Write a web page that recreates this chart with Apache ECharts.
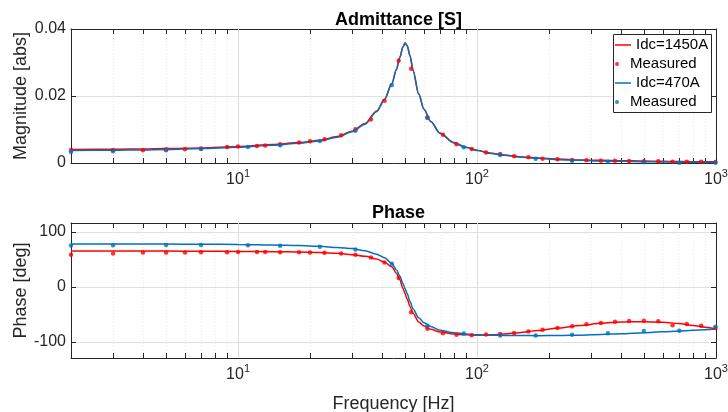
<!DOCTYPE html>
<html><head><meta charset="utf-8">
<script src="https://cdn.jsdelivr.net/npm/echarts@6/dist/echarts.min.js"></script>
<style>html,body{margin:0;padding:0;background:#fff}#c{width:728px;height:412px}</style>
</head><body><div id="c"></div>
<script>
// ---- data ----
const lineFreq = [2, 3, 4, 5, 7, 10, 14, 18, 22, 26, 30, 34, 38, 41, 44, 46, 47.5, 49, 50, 51, 52.5, 54, 57, 60, 64, 70, 80, 90, 100, 115, 130, 150, 180, 220, 270, 330, 400, 500, 600, 700, 800, 900, 1000];
const magFit1450 = [0.0040, 0.0041, 0.0042, 0.0043, 0.0045, 0.0049, 0.0055, 0.0061, 0.0068, 0.0079, 0.0095, 0.0118, 0.0155, 0.0190, 0.0237, 0.0280, 0.0315, 0.0347, 0.0358, 0.0350, 0.0318, 0.0275, 0.0205, 0.0160, 0.0124, 0.0089, 0.0061, 0.0047, 0.0038, 0.0029, 0.0024, 0.0019, 0.0015, 0.0012, 0.0009, 0.0008, 0.0007, 0.0006, 0.0005, 0.00045, 0.0004, 0.00037, 0.00035];
const magFit470 = [0.0037, 0.0038, 0.0039, 0.0040, 0.0043, 0.0047, 0.0053, 0.0059, 0.0066, 0.0077, 0.0093, 0.0116, 0.0153, 0.0189, 0.0236, 0.0278, 0.0314, 0.0347, 0.0358, 0.0351, 0.0320, 0.0277, 0.0207, 0.0161, 0.0124, 0.0089, 0.0060, 0.0046, 0.0037, 0.0028, 0.0023, 0.0018, 0.0014, 0.0010, 0.0008, 0.0006, 0.0005, 0.0004, 0.0003, 0.00025, 0.0002, 0.00018, 0.00015];
const phaseFit1450 = [65, 65, 65, 65, 64.8, 64.5, 64, 63.5, 62.5, 61, 58.5, 55.5, 50.5, 45, 36.5, 25, 13, -3, -12, -22, -36, -48, -63.5, -71, -77, -82, -85.5, -87, -87.5, -87, -85.5, -83, -79, -74.5, -70, -66, -63.5, -63, -64, -66.5, -70, -73, -76];
const phaseFit470 = [78, 78, 78, 77.8, 77.5, 77, 76, 75, 73.8, 71.5, 69.5, 65.5, 59.5, 53, 42.5, 31, 20, 6, -3, -12, -27, -40, -56, -65, -72, -78.5, -83, -85.5, -86.8, -87.5, -88, -88.3, -88.4, -88.2, -87.5, -86.3, -85, -83, -81.5, -80, -78.8, -77.7, -76.5];

const measFreq1450 = [2, 3, 4, 5, 6, 7, 9, 10, 12, 13, 15, 18, 20, 23, 27, 31, 36, 41, 47, 53, 62, 72, 82, 95, 109, 125, 143, 164, 188, 217, 250, 287, 330, 378, 433, 499, 573, 658, 755, 867, 995];
const magMeas1450 = [0.0039, 0.0039, 0.0038, 0.0041, 0.0041, 0.0043, 0.0048, 0.0049, 0.0051, 0.0052, 0.0056, 0.0061, 0.0065, 0.0071, 0.0083, 0.0101, 0.0130, 0.0186, 0.0305, 0.0281, 0.0136, 0.0084, 0.0056, 0.0042, 0.0031, 0.0027, 0.0020, 0.0017, 0.0013, 0.0011, 0.0009, 0.0008, 0.0007, 0.0007, 0.0006, 0.0005, 0.0005, 0.0004, 0.0004, 0.0004, 0.0003];
const phaseMeas1450 = [58.2, 60.5, 62.4, 62.4, 62.4, 62.9, 62.9, 63.4, 63.4, 63.4, 62.9, 62.9, 62.4, 61.8, 60.5, 58.2, 53.3, 44.2, 16, -46, -76, -84, -86.8, -87.6, -86.5, -85.5, -83.7, -80.7, -77.6, -74.6, -71.6, -67.9, -65.5, -63.1, -61.8, -61.3, -62.5, -69.7, -67.3, -70.4, -74.6];

const measFreq470 = [2, 3, 5, 7, 11, 15, 22, 31, 44, 62, 88, 125, 176, 250, 353, 499, 702, 995];
const magMeas470 = [0.0033, 0.0035, 0.0038, 0.0042, 0.0048, 0.0053, 0.0066, 0.0096, 0.0233, 0.0135, 0.0047, 0.0024, 0.0013, 0.0007, 0.0004, 0.0002, 0.0001, 0.0001];
const phaseMeas470 = [75.1, 75.7, 76.3, 76.3, 75.7, 74.5, 72.7, 67.8, 42, -70.4, -84.6, -88, -88, -86.7, -84.3, -80, -79.5, -72.2];

const xTickValues = [2, 3, 4, 5, 6, 7, 8, 9, 10, 20, 30, 40, 50, 60, 70, 80, 90, 100, 200, 300, 400, 500, 600, 700, 800, 900, 1000];
const xLabelValues = [10, 100, 1000];
const xMajorGrid = [10, 100];
const magTicks = [0, 0.02, 0.04];
const phaseTicks = [-100, 0, 100];
const legendLabels = ['Idc=1450A', 'Measured', 'Idc=470A', 'Measured'];

// ---- chart ----
const FONT = "'Liberation Sans', Arial, Helvetica, sans-serif";
const AX = '#262626';
const RED = '#FF0000', BLUE = '#0072BD';
const zip = (xs, ys) => xs.map((x, i) => [x, ys[i]]);

function xAxesFor(g, name) {
  const base = {
    type: 'log', logBase: 10, gridIndex: g, min: 2, max: 1000,
    axisLine: { show: true, onZero: false, lineStyle: { color: AX, width: 1 } },
    axisTick: { show: true, inside: true, length: 5, customValues: xTickValues, lineStyle: { color: AX, width: 1 } },
    minorTick: { show: false }, minorSplitLine: { show: false }
  };
  const bottom = Object.assign({}, base, {
    position: 'bottom',
    axisLabel: {
      show: true, customValues: xLabelValues, margin: 5,
      formatter: v => '{b|10}{s|' + Math.round(Math.log10(v)) + '}',
      rich: {
        b: { fontSize: 16, color: AX, fontFamily: FONT, verticalAlign: 'bottom', lineHeight: 20 },
        s: { fontSize: 11, color: AX, fontFamily: FONT, verticalAlign: 'top', lineHeight: 11 }
      }
    },
    splitLine: { show: true, lineStyle: { color: '#e9e9e9', type: [1, 2], width: 1 } }
  });
  if (name) {
    Object.assign(bottom, { name: name, nameLocation: 'middle', nameGap: 37, nameMoveOverlap: false,
      nameTextStyle: { fontSize: 18, color: AX, fontFamily: FONT } });
  }
  const top = Object.assign({}, base, { position: 'top', axisLabel: { show: false }, splitLine: { show: false } });
  return [bottom, top];
}
function yAxesFor(g, min, max, ticks, name) {
  const base = {
    type: 'value', gridIndex: g, min: min, max: max,
    axisLine: { show: true, onZero: false, lineStyle: { color: AX, width: 1 } },
    axisTick: { show: true, inside: true, length: 5, customValues: ticks, lineStyle: { color: AX, width: 1 } }
  };
  const left = Object.assign({}, base, {
    position: 'left',
    axisLabel: { show: true, customValues: ticks, margin: 5, fontSize: 16, color: AX, fontFamily: FONT },
    splitLine: { show: true, lineStyle: { color: '#e0e0e0', width: 1 } },
    name: name, nameLocation: 'middle', nameGap: 41, nameMoveOverlap: false,
    nameTextStyle: { fontSize: 18, color: AX, fontFamily: FONT }
  });
  const right = Object.assign({}, base, { position: 'right', axisLabel: { show: false }, splitLine: { show: false } });
  return [left, right];
}

const majorGridMark = {
  silent: true, symbol: 'none', z: 1, label: { show: false },
  lineStyle: { color: '#dcdcdc', type: 'solid', width: 1 },
  emphasis: { disabled: true },
  data: xMajorGrid.map(v => ({ xAxis: v }))
};

function lineSeries(name, xi, yi, xs, ys, color, mark) {
  const s = {
    type: 'line', name: name, xAxisIndex: xi, yAxisIndex: yi,
    data: zip(xs, ys), showSymbol: false, symbol: 'none',
    smooth: 0.3, smoothMonotone: 'x',
    lineStyle: { color: color, width: 1.5 }, itemStyle: { color: color },
    emphasis: { disabled: true }, z: 2
  };
  if (mark) s.markLine = majorGridMark;
  return s;
}
function dotSeries(name, xi, yi, xs, ys, color) {
  return {
    type: 'scatter', name: name, xAxisIndex: xi, yAxisIndex: yi,
    data: zip(xs, ys), symbol: 'circle', symbolSize: 4.5,
    itemStyle: { color: color }, emphasis: { disabled: true }, z: 3
  };
}

const seriesNames = ['fit1450', 'meas1450', 'fit470', 'meas470'];
const legendRowTop = [37, 56, 75, 94];
const legends = seriesNames.map((n, i) => {
  const isLine = (i % 2 === 0);
  return {
    data: [{ name: n, icon: isLine ? 'rect' : 'circle' }],
    orient: 'vertical', left: 615, top: legendRowTop[i], padding: 0,
    itemWidth: 16, itemHeight: isLine ? 1.5 : 4, selectedMode: false, z: 10,
    formatter: () => legendLabels[i],
    textStyle: { fontSize: 15, color: '#000', fontFamily: FONT, lineHeight: 16 }
  };
});

const option = {
  animation: false,
  backgroundColor: '#fff',
  title: [
    { text: 'Admittance [S]', left: 393.5, textAlign: 'center', top: 6,
      textStyle: { fontSize: 18, fontWeight: 'bold', color: '#000', fontFamily: FONT } },
    { text: 'Phase', left: 393.5, textAlign: 'center', top: 199,
      textStyle: { fontSize: 18, fontWeight: 'bold', color: '#000', fontFamily: FONT } }
  ],
  grid: [
    { left: 71, top: 29, width: 645, height: 134, containLabel: false, outerBoundsMode: 'none' },
    { left: 71, top: 223, width: 645, height: 135, containLabel: false, outerBoundsMode: 'none' }
  ],
  xAxis: [].concat(xAxesFor(0, null), xAxesFor(1, 'Frequency [Hz]')),
  yAxis: [].concat(yAxesFor(0, 0, 0.04, magTicks, 'Magnitude [abs]'),
                   yAxesFor(1, -129, 116, phaseTicks, 'Phase [deg]')),
  legend: legends,
  graphic: [{
    type: 'rect', z: 8, silent: true,
    shape: { x: 613.5, y: 34.5, width: 98, height: 78 },
    style: { fill: '#fff', stroke: AX, lineWidth: 1 }
  }],
  series: [
    lineSeries('fit1450', 0, 0, lineFreq, magFit1450, RED, true),
    dotSeries('meas1450', 0, 0, measFreq1450, magMeas1450, RED),
    lineSeries('fit470', 0, 0, lineFreq, magFit470, BLUE, false),
    dotSeries('meas470', 0, 0, measFreq470, magMeas470, BLUE),
    lineSeries('pfit1450', 2, 2, lineFreq, phaseFit1450, RED, true),
    dotSeries('pmeas1450', 2, 2, measFreq1450, phaseMeas1450, RED),
    lineSeries('pfit470', 2, 2, lineFreq, phaseFit470, BLUE, false),
    dotSeries('pmeas470', 2, 2, measFreq470, phaseMeas470, BLUE)
  ]
};
const chart = echarts.init(document.getElementById('c'), null, { renderer: 'canvas' });
chart.setOption(option);
</script></body></html>
